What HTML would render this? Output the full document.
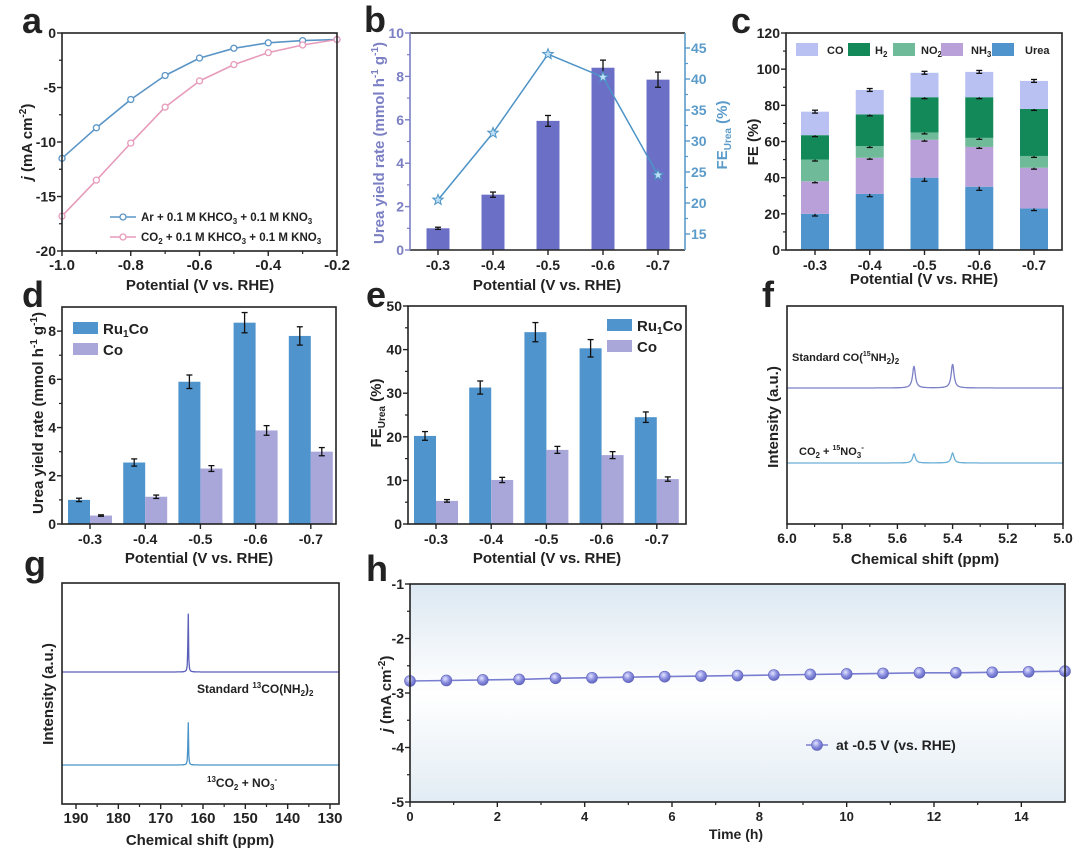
<!DOCTYPE html>
<html><head><meta charset="utf-8"><style>
html,body{margin:0;padding:0;background:#fff;}
svg{display:block;font-family:"Liberation Sans",Arial,sans-serif;font-weight:bold;}
text{fill:#222;}
</style></head><body>
<svg id="fig" width="1080" height="856" viewBox="0 0 1080 856" xmlns="http://www.w3.org/2000/svg">
<defs>
<linearGradient id="hbg" x1="0" y1="0" x2="0" y2="1">
<stop offset="0" stop-color="#dce8f2"/><stop offset="0.5" stop-color="#ffffff"/><stop offset="1" stop-color="#e2ecf4"/>
</linearGradient>
<radialGradient id="ball" cx="0.4" cy="0.35" r="0.7">
<stop offset="0" stop-color="#e4e6ff"/><stop offset="0.5" stop-color="#8d91e0"/><stop offset="1" stop-color="#5a5eb8"/>
</radialGradient>
</defs>
<rect x="410" y="584" width="655" height="218" fill="url(#hbg)"/>
<text x="22" y="33" font-size="36">a</text>
<text x="364" y="32" font-size="36">b</text>
<text x="731" y="33" font-size="36">c</text>
<text x="22" y="307" font-size="36">d</text>
<text x="366" y="307" font-size="36">e</text>
<text x="762" y="307" font-size="36">f</text>
<text x="24" y="576" font-size="36">g</text>
<text x="366" y="581" font-size="36">h</text>
<text x="200" y="290" font-size="15" text-anchor="middle">Potential (V vs. RHE)</text>
<text transform="translate(32,142) rotate(-90)" font-size="15" text-anchor="middle"><tspan font-style="italic">j</tspan> (mA cm<tspan font-size="10" dy="-6">-2</tspan><tspan dy="6">)</tspan></text>
<text x="547" y="290" font-size="15" text-anchor="middle">Potential (V vs. RHE)</text>
<text transform="translate(384,143) rotate(-90)" font-size="15" text-anchor="middle" style="fill:#7b7fc4">Urea yield rate (mmol h<tspan font-size="10" dy="-6">-1</tspan><tspan dy="6"> g</tspan><tspan font-size="10" dy="-6">-1</tspan><tspan dy="6">)</tspan></text>
<text transform="translate(727,135) rotate(-90)" font-size="15" text-anchor="middle" style="fill:#5b9bc9">FE<tspan font-size="10" dy="4">Urea</tspan><tspan dy="-4"> (%)</tspan></text>
<text x="924" y="284" font-size="15" text-anchor="middle">Potential (V vs. RHE)</text>
<text transform="translate(758,142) rotate(-90)" font-size="15" text-anchor="middle">FE (%)</text>
<text x="199" y="563" font-size="15" text-anchor="middle">Potential (V vs. RHE)</text>
<text transform="translate(43,413) rotate(-90)" font-size="15" text-anchor="middle">Urea yield rate (mmol h<tspan font-size="10" dy="-6">-1</tspan><tspan dy="6"> g</tspan><tspan font-size="10" dy="-6">-1</tspan><tspan dy="6">)</tspan></text>
<text x="547" y="563" font-size="15" text-anchor="middle">Potential (V vs. RHE)</text>
<text transform="translate(381,413) rotate(-90)" font-size="15" text-anchor="middle">FE<tspan font-size="10" dy="4">Urea</tspan><tspan dy="-4"> (%)</tspan></text>
<text x="925" y="564" font-size="15" text-anchor="middle">Chemical shift (ppm)</text>
<text transform="translate(778,417) rotate(-90)" font-size="15" text-anchor="middle">Intensity (a.u.)</text>
<text x="200" y="845" font-size="15" text-anchor="middle">Chemical shift (ppm)</text>
<text transform="translate(53,694) rotate(-90)" font-size="15" text-anchor="middle">Intensity (a.u.)</text>
<text x="736" y="839" font-size="14" text-anchor="middle">Time (h)</text>
<text transform="translate(391,694) rotate(-90)" font-size="15" text-anchor="middle"><tspan font-style="italic">j</tspan> (mA cm<tspan font-size="10" dy="-6">-2</tspan><tspan dy="6">)</tspan></text>
<text x="141" y="221" font-size="11.5">Ar + 0.1 M KHCO<tspan font-size="8" dy="3">3</tspan><tspan dy="-3"> + 0.1 M KNO</tspan><tspan font-size="8" dy="3">3</tspan></text>
<text x="141" y="241" font-size="11.5">CO<tspan font-size="8" dy="3">2</tspan><tspan dy="-3"> + 0.1 M KHCO</tspan><tspan font-size="8" dy="3">3</tspan><tspan dy="-3"> + 0.1 M KNO</tspan><tspan font-size="8" dy="3">3</tspan></text>
<text x="827" y="54" font-size="11">CO</text>
<text x="875" y="54" font-size="11">H<tspan font-size="8" dy="3">2</tspan></text>
<text x="921" y="54" font-size="11">NO<tspan font-size="8" dy="3">2</tspan><tspan font-size="8" dy="-8">-</tspan></text>
<text x="971" y="54" font-size="11">NH<tspan font-size="8" dy="3">3</tspan></text>
<text x="1025" y="54" font-size="11">Urea</text>
<text x="103" y="334" font-size="15">Ru<tspan font-size="10" dy="3">1</tspan><tspan dy="-3">Co</tspan></text>
<text x="103" y="355" font-size="15">Co</text>
<text x="637" y="331" font-size="15">Ru<tspan font-size="10" dy="3">1</tspan><tspan dy="-3">Co</tspan></text>
<text x="637" y="352" font-size="15">Co</text>
<text x="792" y="361" font-size="11">Standard CO(<tspan font-size="7" dy="-5">15</tspan><tspan dy="5">NH</tspan><tspan font-size="8" dy="3">2</tspan><tspan dy="-3">)</tspan><tspan font-size="8" dy="3">2</tspan></text>
<text x="799" y="455" font-size="11">CO<tspan font-size="8" dy="3">2</tspan><tspan dy="-3"> + </tspan><tspan font-size="7" dy="-5">15</tspan><tspan dy="5">NO</tspan><tspan font-size="8" dy="3">3</tspan><tspan font-size="8" dy="-8">-</tspan></text>
<text x="197" y="693" font-size="12">Standard <tspan font-size="8" dy="-5">13</tspan><tspan dy="5">CO(NH</tspan><tspan font-size="8" dy="3">2</tspan><tspan dy="-3">)</tspan><tspan font-size="8" dy="3">2</tspan></text>
<text x="207" y="787" font-size="12"><tspan font-size="8" dy="-5">13</tspan><tspan dy="5">CO</tspan><tspan font-size="8" dy="3">2</tspan><tspan dy="-3"> + NO</tspan><tspan font-size="8" dy="3">3</tspan><tspan font-size="8" dy="-8">-</tspan></text>
<text x="836" y="750" font-size="14">at -0.5 V (vs. RHE)</text>
<g id="marks"></g>
</svg>
<script>
const aX = [-1.0,-0.9,-0.8,-0.7,-0.6,-0.5,-0.4,-0.3,-0.2];
const aAr = [-11.5,-8.7,-6.1,-3.9,-2.3,-1.4,-0.9,-0.7,-0.6];
const aCO2 = [-16.8,-13.5,-10.1,-6.8,-4.4,-2.9,-1.8,-1.1,-0.6];
const potentials = ['-0.3','-0.4','-0.5','-0.6','-0.7'];
const bYield = [1.0,2.55,5.95,8.4,7.85];
const bYieldErr = [0.05,0.12,0.25,0.35,0.35];
const bFE = [20.5,31.3,44.0,40.3,24.5];
const cUrea = [20,31,40,35,23];
const cNH3 = [18,20,21,22,22.5];
const cNO2 = [12,6.5,4,5,6.5];
const cH2 = [13.5,17.5,19.5,22.5,26];
const cCO = [13,13.5,13.5,14,15.5];
const cErr = [1.2,1.5,2,2,1.2];
const dRu = [1.0,2.55,5.9,8.35,7.8];
const dRuErr = [0.07,0.15,0.28,0.42,0.38];
const dCo = [0.35,1.13,2.3,3.88,3.0];
const dCoErr = [0.03,0.07,0.12,0.2,0.17];
const eRu = [20.2,31.3,44.0,40.3,24.5];
const eRuErr = [1.0,1.5,2.2,2.0,1.2];
const eCo = [5.3,10.1,17.0,15.8,10.3];
const eCoErr = [0.3,0.6,0.8,0.8,0.5];
const fPeaksPpm = [5.54,5.40];
const fStdHeights = [22,24];
const fSampleHeights = [9,10];
const gPeakPpm = [163.5];
const gStdHeights = [63];
const gSampleHeights = [46];
const hTime = [0,0.833,1.667,2.5,3.333,4.167,5,5.833,6.667,7.5,8.333,9.167,10,10.833,11.667,12.5,13.333,14.167,15];
const hJ = [-2.78,-2.77,-2.76,-2.75,-2.73,-2.72,-2.71,-2.70,-2.69,-2.68,-2.67,-2.66,-2.65,-2.64,-2.63,-2.63,-2.62,-2.61,-2.60];
const aXTicks = [-1.0,-0.8,-0.6,-0.4,-0.2];
const aYTicks = [0,-5,-10,-15,-20];
const bYTicks = [0,2,4,6,8,10];
const bY2Ticks = [15,20,25,30,35,40,45];
const cYTicks = [0,20,40,60,80,100,120];
const dYTicks = [0,2,4,6,8];
const eYTicks = [0,10,20,30,40,50];
const fXTicks = [6.0,5.8,5.6,5.4,5.2,5.0];
const gXTicks = [190,180,170,160,150,140,130];
const hXTicks = [0,2,4,6,8,10,12,14];
const hYTicks = [-1,-2,-3,-4,-5];

const NS='http://www.w3.org/2000/svg';
const root=document.getElementById('marks');
function mk(tag, attrs, name){
  const e=document.createElementNS(NS,tag);
  for(const k in attrs) e.setAttribute(k,attrs[k]);
  
  
  root.appendChild(e); return e;
}
function txt(x,y,s,size,anchor,color,name){
  const t=mk('text',{x:x,y:y,'font-size':size,'text-anchor':anchor},name);
  if(color) t.style.fill=color;
  t.textContent=s; return t;
}
function lin(d0,d1,r0,r1){return v=>r0+(v-d0)/(d1-d0)*(r1-r0);}
function box(x0,y0,x1,y1,name){mk('rect',{x:x0,y:y0,width:x1-x0,height:y1-y0,fill:'none',stroke:'#222','stroke-width':1.6},name);}
function yTicks(sc,vals,x,fmt,color,name,side,minor){
  const dir = side==='right'?1:-1;
  vals.forEach((v,i)=>{
    const y=sc(v);
    mk('line',{x1:x,x2:x+dir*5,y1:y,y2:y,stroke:color||'#222','stroke-width':1.4},name+'-tick');
    txt(side==='right'?x+6:x-6,y+5,fmt(v),14,side==='right'?'start':'end',color,name+'-label');
    if(minor && i<vals.length-1){const ym=sc((v+vals[i+1])/2);
      mk('line',{x1:x,x2:x+dir*3,y1:ym,y2:ym,stroke:color||'#222','stroke-width':1.2},name+'-minor-tick');}
  });
}
function xTicks(sc,vals,y,fmt,name,size,minor){
  vals.forEach((v,i)=>{
    const x=sc(v);
    mk('line',{x1:x,x2:x,y1:y,y2:y+5,stroke:'#222','stroke-width':1.4},name+'-tick');
    txt(x,y+19,fmt(v),size||14,'middle',null,name+'-label');
    if(minor && i<vals.length-1){const xm=sc((v+vals[i+1])/2);
      mk('line',{x1:xm,x2:xm,y1:y,y2:y+3,stroke:'#222','stroke-width':1.2},name+'-minor-tick');}
  });
}
function catTicks(xs,y,name){
  potentials.forEach((p,i)=>{
    mk('line',{x1:xs(i),x2:xs(i),y1:y,y2:y+5,stroke:'#222','stroke-width':1.4},name+'-tick');
    txt(xs(i),y+20,p,14,'middle',null,name+'-label');
  });
}
function errBar(x,y1,y2,name){
  mk('line',{x1:x,x2:x,y1:y1,y2:y2,stroke:'#111','stroke-width':1.3},name);
  mk('line',{x1:x-3,x2:x+3,y1:y1,y2:y1,stroke:'#111','stroke-width':1.3},name+'-cap');
  mk('line',{x1:x-3,x2:x+3,y1:y2,y2:y2,stroke:'#111','stroke-width':1.3},name+'-cap');
}
const f2=v=>v.toFixed(1);
const f0=v=>String(v);

{
 const X=lin(-1.0,-0.2,62,337), Y=lin(0,-20,33,251);
 const series=[[aAr,'#5b95c6','a-ar-curve'],[aCO2,'#e69bbb','a-co2-curve']];
 series.forEach(([vals,col,nm])=>{
   const d=vals.map((v,i)=>(i?'L':'M')+X(aX[i]).toFixed(1)+','+Y(v).toFixed(1)).join('');
   mk('path',{d:d,fill:'none',stroke:col,'stroke-width':1.6,'stroke-linejoin':'round'},nm);
   vals.forEach((v,i)=>{
     mk('circle',{cx:X(aX[i]),cy:Y(v),r:3,fill:'#fff',stroke:col,'stroke-width':1.3},nm+'-marker');
   });
 });
 box(62,33,337,251,'a-plot-frame');
 yTicks(Y,aYTicks,62,f0,null,'a-y',null,true);
 xTicks(X,aXTicks,251,f2,'a-x',15,true);
 mk('line',{x1:110,x2:136,y1:217,y2:217,stroke:'#5b95c6','stroke-width':1.5},'a-legend-ar-line');
 mk('circle',{cx:123,cy:217,r:3,fill:'#fff',stroke:'#5b95c6','stroke-width':1.3},'a-legend-ar-marker');
 mk('line',{x1:110,x2:136,y1:237,y2:237,stroke:'#e69bbb','stroke-width':1.5},'a-legend-co2-line');
 mk('circle',{cx:123,cy:237,r:3,fill:'#fff',stroke:'#e69bbb','stroke-width':1.3},'a-legend-co2-marker');
}
{
 const xs=i=>438+i*55, Y=lin(0,10,250,33), Y2=lin(15,45,234,48);
 bYield.forEach((v,i)=>{
   mk('rect',{x:xs(i)-11.5,y:Y(v),width:23,height:250-Y(v),fill:'#6b70c6'},'b-yield-bar');
   errBar(xs(i),Y(v+bYieldErr[i]),Y(v-bYieldErr[i]),'b-yield-error-bar');
 });
 const d=bFE.map((v,i)=>(i?'L':'M')+xs(i)+','+Y2(v).toFixed(1)).join('');
 mk('path',{d:d,fill:'none',stroke:'#4d93c6','stroke-width':1.5},'b-fe-line');
 bFE.forEach((v,i)=>{
   const cx=xs(i), cy=Y2(v); let pts=[];
   for(let k=0;k<10;k++){const r=k%2?2.3:5.5, an=-Math.PI/2+k*Math.PI/5; pts.push((cx+r*Math.cos(an)).toFixed(1)+','+(cy+r*Math.sin(an)).toFixed(1));}
   mk('polygon',{points:pts.join(' '),fill:'#bfe0f5',stroke:'#4d93c6','stroke-width':1},'b-fe-star-marker');
 });
 mk('line',{x1:410,x2:685,y1:33,y2:33,stroke:'#222','stroke-width':1.6},'b-top-axis');
 mk('line',{x1:410,x2:685,y1:250,y2:250,stroke:'#222','stroke-width':1.6},'b-x-axis');
 mk('line',{x1:410,x2:410,y1:33,y2:250,stroke:'#7b7fc4','stroke-width':1.6},'b-left-axis');
 mk('line',{x1:685,x2:685,y1:33,y2:250,stroke:'#5b9bc9','stroke-width':1.6},'b-right-axis');
 yTicks(Y,bYTicks,410,f0,'#7b7fc4','b-y-left',null,true);
 yTicks(Y2,bY2Ticks,685,f0,'#5b9bc9','b-y-right','right',true);
 catTicks(xs,250,'b-x');
}
{
 const xs=i=>815+i*54.75, Y=lin(0,120,250,33);
 const layers=[[cUrea,'#4f94cd','c-urea-bar'],[cNH3,'#b9a0d8','c-nh3-bar'],[cNO2,'#6fba98','c-no2-bar'],[cH2,'#13895a','c-h2-bar'],[cCO,'#b9c0f2','c-co-bar']];
 potentials.forEach((p,i)=>{
   let base=0;
   layers.forEach(([vals,col,nm])=>{
     const top=base+vals[i];
     mk('rect',{x:xs(i)-14,y:Y(top),width:28,height:Y(base)-Y(top),fill:col},nm);
     const e=(nm==='c-urea-bar'?cErr[i]:0.8);
     errBar(xs(i),Y(top+e),Y(top-e),nm+'-error-bar');
     base=top;
   });
 });
 box(786,33,1062,250,'c-plot-frame');
 yTicks(Y,cYTicks,786,f0,null,'c-y',null,true);
 catTicks(xs,250,'c-x');
 const leg=[[796,'#b9c0f2','c-legend-co-swatch'],[848,'#13895a','c-legend-h2-swatch'],[893,'#6fba98','c-legend-no2-swatch'],[941,'#b9a0d8','c-legend-nh3-swatch'],[992,'#4f94cd','c-legend-urea-swatch']];
 leg.forEach(([x,col,nm])=>{mk('rect',{x:x,y:43,width:22,height:13,fill:col},nm);});
}
function groupPanel(x0,x1,y0,y1,ymax,ticks,ru,ruE,co,coE,pref,legX,legY){
 const xs=i=>x0+28+i*55.2, Y=lin(0,ymax,y1,y0);
 potentials.forEach((p,i)=>{
   mk('rect',{x:xs(i)-22,y:Y(ru[i]),width:22,height:y1-Y(ru[i]),fill:'#4f94cd'},pref+'-ru1co-bar');
   mk('rect',{x:xs(i),y:Y(co[i]),width:22,height:y1-Y(co[i]),fill:'#a9a6da'},pref+'-co-bar');
   errBar(xs(i)-11,Y(ru[i]+ruE[i]),Y(ru[i]-ruE[i]),pref+'-ru1co-error-bar');
   errBar(xs(i)+11,Y(co[i]+coE[i]),Y(co[i]-coE[i]),pref+'-co-error-bar');
 });
 box(x0,y0,x1,y1,pref+'-plot-frame');
 yTicks(Y,ticks,x0,f0,null,pref+'-y',null,true);
 catTicks(xs,y1,pref+'-x');
 mk('rect',{x:legX,y:legY,width:25,height:12,fill:'#4f94cd'},pref+'-legend-ru1co-swatch');
 mk('rect',{x:legX,y:legY+21,width:25,height:12,fill:'#a9a6da'},pref+'-legend-co-swatch');
}
groupPanel(62,336,307,524,9,dYTicks,dRu,dRuErr,dCo,dCoErr,'d',73,322);
groupPanel(408,686,306,524,50,eYTicks,eRu,eRuErr,eCo,eCoErr,'e',607,319);
function spectrum(X,lo,hi,baseY,peaks,heights,width,col,name){
 let d='';
 const n=500;
 for(let k=0;k<=n;k++){
   const ppm=lo+(hi-lo)*k/n; let y=baseY;
   peaks.forEach((p,j)=>{const u=(ppm-p)/width; y-=heights[j]/(1+u*u);});
   d+=(k?'L':'M')+X(ppm).toFixed(1)+','+y.toFixed(1);
 }
 mk('path',{d:d,fill:'none',stroke:col,'stroke-width':1.3},name);
}
{
 const X=lin(6.0,5.0,787,1063);
 spectrum(X,6.0,5.0,388,fPeaksPpm,fStdHeights,0.006,'#7b80c6','f-standard-spectrum');
 spectrum(X,6.0,5.0,463,fPeaksPpm,fSampleHeights,0.006,'#6aaed6','f-sample-spectrum');
 box(787,306,1063,524,'f-plot-frame');
 xTicks(X,fXTicks,524,f2,'f-x',14,true);
}
{
 const X=lin(190,130,76,330);
 spectrum(X,193.3,127.9,672,gPeakPpm,gStdHeights,0.08,'#5a5fb8','g-standard-spectrum');
 spectrum(X,193.3,127.9,765,gPeakPpm,gSampleHeights,0.08,'#4a94c8','g-sample-spectrum');
 box(62,583,339,804,'g-plot-frame');
 xTicks(X,gXTicks,804,f0,'g-x',15,true);
}
{
 const X=lin(0,15,410,1065), Y=lin(-1,-5,584,802);
 const d=hJ.map((v,i)=>(i?'L':'M')+X(hTime[i]).toFixed(1)+','+Y(v).toFixed(1)).join('');
 mk('path',{d:d,fill:'none',stroke:'#7a7ed0','stroke-width':1.6},'h-stability-line');
 hJ.forEach((v,i)=>{mk('circle',{cx:X(hTime[i]),cy:Y(v),r:5.5,fill:'url(#ball)',stroke:'#6266bf','stroke-width':0.6},'h-stability-marker');});
 box(410,584,1065,802,'h-plot-frame');
 yTicks(Y,hYTicks,410,f0,null,'h-y',null,true);
 xTicks(X,hXTicks,802,f0,'h-x',13,true);
 mk('line',{x1:806,x2:828,y1:745,y2:745,stroke:'#7a7ed0','stroke-width':1.6},'h-legend-line');
 mk('circle',{cx:817,cy:745,r:5.5,fill:'url(#ball)',stroke:'#6266bf','stroke-width':0.6},'h-legend-marker');
}
</script>
</body></html>
